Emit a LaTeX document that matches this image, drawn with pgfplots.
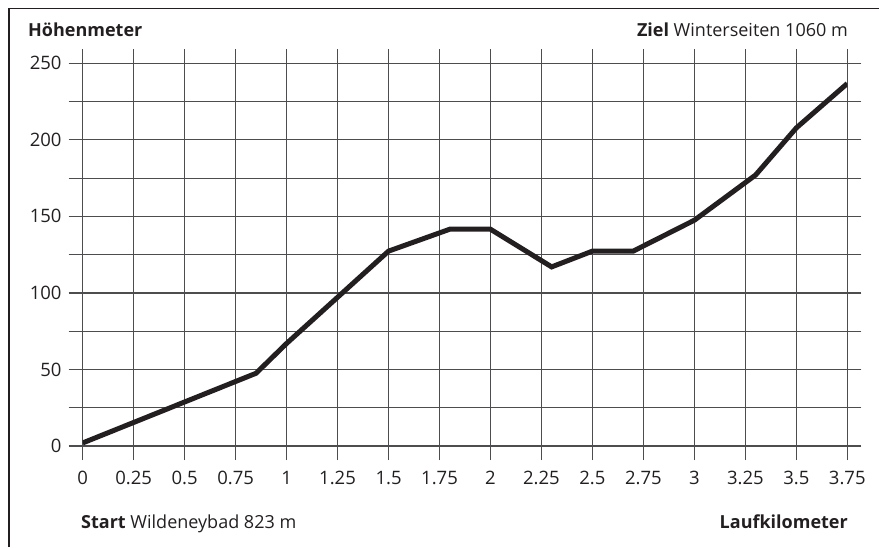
\documentclass[border=0pt]{standalone}
\usepackage{fontspec}
\setmainfont{Open Sans}
\usepackage{pgfplots}
\pgfplotsset{compat=1.18}
\definecolor{lc}{HTML}{231F20}
\definecolor{gc}{HTML}{4D4D4F}
\begin{document}
\fontsize{18}{22}\selectfont
\begin{tikzpicture}[x=1pt,y=1pt]
\useasboundingbox (0,0) rectangle (879,547);
\draw[lc, line width=1.5pt] (9,0) -- (9,538.7) -- (879,538.7);
\begin{axis}[
  at={(82.7pt,101pt)}, anchor=south west,
  scale only axis, width=764.6pt, height=382.7pt,
  xmin=0, xmax=3.75, ymin=0, ymax=250,
  xtick={0,0.25,0.5,0.75,1,1.25,1.5,1.75,2,2.25,2.5,2.75,3,3.25,3.5,3.75},
  xticklabels={0,0.25,0.5,0.75,1,1.25,1.5,1.75,2,2.25,2.5,2.75,3,3.25,3.5,3.75},
  ytick={0,25,50,75,100,125,150,175,200,225,250},
  yticklabels={0,,50,,100,,150,,200,,250},
  grid=major,
  major grid style={gc, line width=1.2pt},
  axis line style={gc, line width=1.2pt},
  tick style={gc, line width=1.2pt},
  tick align=outside, major tick length=14pt,
  tick label style={font=\fontsize{18.5}{22}\selectfont, text=lc},
  xticklabel style={yshift=-5pt},
  yticklabel style={xshift=-1pt},
  /pgf/number format/assume math mode=true,
]
\addplot[lc, line width=5pt] coordinates {
  (0,2) (0.85,47.5) (1,67) (1.5,127.3) (1.8,141.6) (2,141.6) (2.3,117)
  (2.5,127.3) (2.7,127.3) (3,147.5) (3.3,177) (3.5,207.8) (3.75,236.8)
};
\end{axis}
\node[anchor=base west, inner sep=0, font=\bfseries, text=lc] at (28,510) {Höhenmeter};
\node[anchor=base east, inner sep=0, text=lc] at (848,510) {\textbf{Ziel} Winterseiten 1060 m};
\node[anchor=base west, inner sep=0, text=lc] at (81,19) {\textbf{Start} Wildeneybad 823 m};
\node[anchor=base east, inner sep=0, font=\bfseries, text=lc] at (848,19) {Laufkilometer};
\end{tikzpicture}
\end{document}
